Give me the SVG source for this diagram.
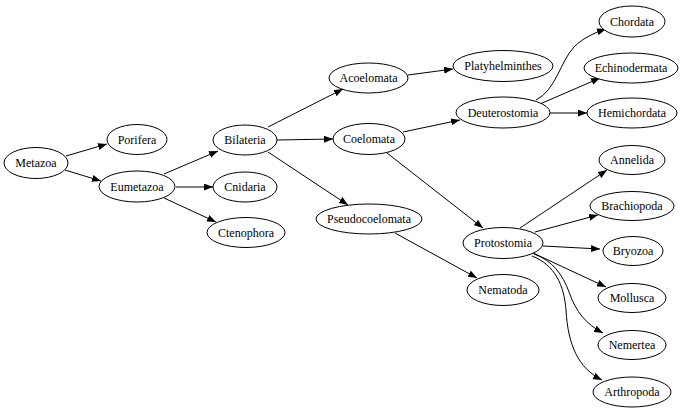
<svg xmlns="http://www.w3.org/2000/svg" width="685" height="411" viewBox="0 0 685 411">
<defs>
<marker id="arr" markerUnits="userSpaceOnUse" markerWidth="10" markerHeight="7" refX="9" refY="3.5" orient="auto">
<path d="M0,0 L9,3.5 L0,7 z" fill="#000"/>
</marker>
<style>
ellipse{fill:#fff;stroke:#000;stroke-width:1}
text{font-family:"Liberation Serif","Times New Roman",serif;font-size:12px;text-anchor:middle;fill:#000}
.e path,.e line{fill:none;stroke:#000;stroke-width:1;marker-end:url(#arr)}
</style>
</defs>
<rect width="685" height="411" fill="#fff"/>
<g class="e" id="edges">
<line x1="66" y1="156" x2="107" y2="144"/>
<line x1="65" y1="170" x2="101" y2="181"/>
<line x1="164" y1="174" x2="218" y2="151"/>
<line x1="176" y1="187" x2="213" y2="187"/>
<line x1="164" y1="198" x2="216" y2="222"/>
<line x1="268" y1="127" x2="343" y2="89"/>
<line x1="277" y1="140" x2="333" y2="139"/>
<line x1="268" y1="152" x2="348" y2="205"/>
<line x1="408" y1="75" x2="453" y2="69"/>
<line x1="403" y1="132" x2="460" y2="120"/>
<line x1="387" y1="153" x2="483" y2="228"/>
<line x1="395" y1="233" x2="477" y2="278"/>
<path d="M536,100 C556,90 560,62 574,47 C583,38 594,33 606,29"/>
<line x1="540" y1="104" x2="600" y2="78"/>
<line x1="550" y1="113" x2="587" y2="113"/>
<line x1="520" y1="228" x2="607" y2="170"/>
<line x1="535" y1="232" x2="598" y2="215"/>
<line x1="543" y1="246" x2="600" y2="249"/>
<line x1="533" y1="253" x2="606" y2="287"/>
<path d="M534,254 C552,260 563,275 569,292 C576,312 586,324 603,333"/>
<path d="M532,256 C555,265 564,285 566,310 C568,345 578,368 602,380"/>
</g>
<g id="Metazoa"><ellipse cx="36" cy="163" rx="32" ry="15.5"/><text x="36" y="167">Metazoa</text></g>
<g id="Porifera"><ellipse cx="137" cy="139.5" rx="30" ry="15"/><text x="137" y="143.5">Porifera</text></g>
<g id="Eumetazoa"><ellipse cx="137" cy="186.5" rx="38" ry="15.5"/><text x="137" y="190.5">Eumetazoa</text></g>
<g id="Bilateria"><ellipse cx="245" cy="140" rx="32" ry="15"/><text x="245" y="144">Bilateria</text></g>
<g id="Cnidaria"><ellipse cx="245" cy="187" rx="32" ry="15"/><text x="245" y="191">Cnidaria</text></g>
<g id="Ctenophora"><ellipse cx="246" cy="232.5" rx="39" ry="15"/><text x="246" y="236.5">Ctenophora</text></g>
<g id="Acoelomata"><ellipse cx="368.5" cy="78" rx="39.5" ry="15"/><text x="368.5" y="82">Acoelomata</text></g>
<g id="Coelomata"><ellipse cx="369" cy="139" rx="36" ry="15.5"/><text x="369" y="143">Coelomata</text></g>
<g id="Pseudocoelomata"><ellipse cx="369" cy="219" rx="53" ry="15"/><text x="369" y="223">Pseudocoelomata</text></g>
<g id="Platyhelminthes"><ellipse cx="503" cy="66" rx="50" ry="15.5"/><text x="503" y="70">Platyhelminthes</text></g>
<g id="Deuterostomia"><ellipse cx="503" cy="112.5" rx="47" ry="15.5"/><text x="503" y="116.5">Deuterostomia</text></g>
<g id="Protostomia"><ellipse cx="503" cy="243" rx="40" ry="15.5"/><text x="503" y="247">Protostomia</text></g>
<g id="Nematoda"><ellipse cx="503" cy="290" rx="36" ry="15.5"/><text x="503" y="294">Nematoda</text></g>
<g id="Chordata"><ellipse cx="632" cy="21.5" rx="33" ry="15.5"/><text x="632" y="25.5">Chordata</text></g>
<g id="Echinodermata"><ellipse cx="631" cy="68" rx="47" ry="15"/><text x="631" y="72">Echinodermata</text></g>
<g id="Hemichordata"><ellipse cx="632" cy="113" rx="45" ry="15"/><text x="632" y="117">Hemichordata</text></g>
<g id="Annelida"><ellipse cx="632" cy="160" rx="33" ry="14.5"/><text x="632" y="164">Annelida</text></g>
<g id="Brachiopoda"><ellipse cx="632" cy="206" rx="42" ry="14.5"/><text x="632" y="210">Brachiopoda</text></g>
<g id="Bryozoa"><ellipse cx="633" cy="251" rx="30" ry="14.5"/><text x="633" y="255">Bryozoa</text></g>
<g id="Mollusca"><ellipse cx="632" cy="298" rx="34" ry="14.5"/><text x="632" y="302">Mollusca</text></g>
<g id="Nemertea"><ellipse cx="632" cy="345" rx="34" ry="14.5"/><text x="632" y="349">Nemertea</text></g>
<g id="Arthropoda"><ellipse cx="632" cy="392" rx="39" ry="15"/><text x="632" y="396">Arthropoda</text></g>
</svg>
